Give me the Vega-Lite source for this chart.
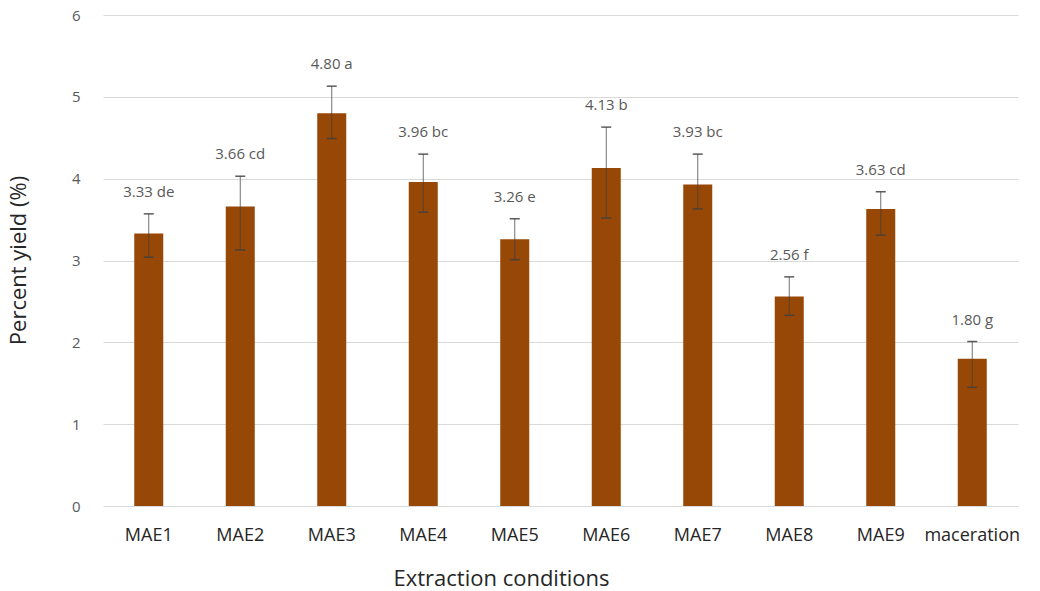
{
  "$schema": "https://vega.github.io/schema/vega-lite/v6.json",
  "width": 915,
  "height": 491,
  "autosize": {"type": "none"},
  "padding": {"left": 103, "top": 15, "right": 22, "bottom": 85},
  "background": "white",
  "config": {
    "view": {"stroke": null},
    "font": "Open Sans"
  },
  "data": {
    "values": [
      {"condition": "MAE1", "yield": 3.33, "lower": 3.04, "upper": 3.57, "label": "3.33 de"},
      {"condition": "MAE2", "yield": 3.66, "lower": 3.13, "upper": 4.03, "label": "3.66 cd"},
      {"condition": "MAE3", "yield": 4.80, "lower": 4.49, "upper": 5.13, "label": "4.80 a"},
      {"condition": "MAE4", "yield": 3.96, "lower": 3.59, "upper": 4.30, "label": "3.96 bc"},
      {"condition": "MAE5", "yield": 3.26, "lower": 3.01, "upper": 3.51, "label": "3.26 e"},
      {"condition": "MAE6", "yield": 4.13, "lower": 3.52, "upper": 4.63, "label": "4.13 b"},
      {"condition": "MAE7", "yield": 3.93, "lower": 3.63, "upper": 4.30, "label": "3.93 bc"},
      {"condition": "MAE8", "yield": 2.56, "lower": 2.33, "upper": 2.80, "label": "2.56 f"},
      {"condition": "MAE9", "yield": 3.63, "lower": 3.31, "upper": 3.84, "label": "3.63 cd"},
      {"condition": "maceration", "yield": 1.80, "lower": 1.45, "upper": 2.01, "label": "1.80 g"}
    ]
  },
  "encoding": {
    "x": {
      "field": "condition",
      "type": "nominal",
      "sort": null,
      "scale": {"paddingInner": 0, "paddingOuter": 0},
      "axis": {
        "title": "Extraction conditions",
        "titleFontSize": 22,
        "titleFontWeight": "normal",
        "titleColor": "#262626",
        "titleX": 398,
        "titleY": 72,
        "titleBaseline": "middle",
        "labelAngle": 0,
        "labelFontSize": 18,
        "labelColor": "#262626",
        "labelPadding": 20,
        "ticks": false,
        "domain": false,
        "grid": false
      }
    }
  },
  "layer": [
    {
      "mark": {"type": "bar", "size": 29, "color": "#974706"},
      "encoding": {
        "y": {
          "field": "yield",
          "type": "quantitative",
          "scale": {"domain": [0, 6], "nice": false},
          "axis": {
            "title": "Percent yield (%)",
            "titleFontSize": 22,
            "titleFontWeight": "normal",
            "titleColor": "#262626",
            "titleX": -85,
            "titleY": 245,
            "titleAngle": -90,
            "titleAlign": "center",
            "titleBaseline": "middle",
            "values": [0, 1, 2, 3, 4, 5, 6],
            "format": "d",
            "labelFontSize": 15,
            "labelColor": "#595959",
            "labelPadding": 23,
            "ticks": false,
            "domain": false,
            "grid": true,
            "gridColor": "#d9d9d9",
            "gridWidth": 1
          }
        }
      }
    },
    {
      "mark": {"type": "rule", "color": "#404040", "opacity": 0.75, "strokeWidth": 1},
      "encoding": {
        "y": {"field": "lower", "type": "quantitative"},
        "y2": {"field": "upper"}
      }
    },
    {
      "mark": {"type": "tick", "color": "#404040", "opacity": 0.85, "size": 10, "thickness": 1.5},
      "encoding": {
        "y": {"field": "upper", "type": "quantitative"}
      }
    },
    {
      "mark": {"type": "tick", "color": "#404040", "opacity": 0.85, "size": 10, "thickness": 1.5},
      "encoding": {
        "y": {"field": "lower", "type": "quantitative"}
      }
    },
    {
      "mark": {"type": "text", "fontSize": 15, "color": "#595959", "baseline": "middle", "align": "center", "dy": -22},
      "encoding": {
        "y": {"field": "upper", "type": "quantitative"},
        "text": {"field": "label"}
      }
    }
  ]
}
